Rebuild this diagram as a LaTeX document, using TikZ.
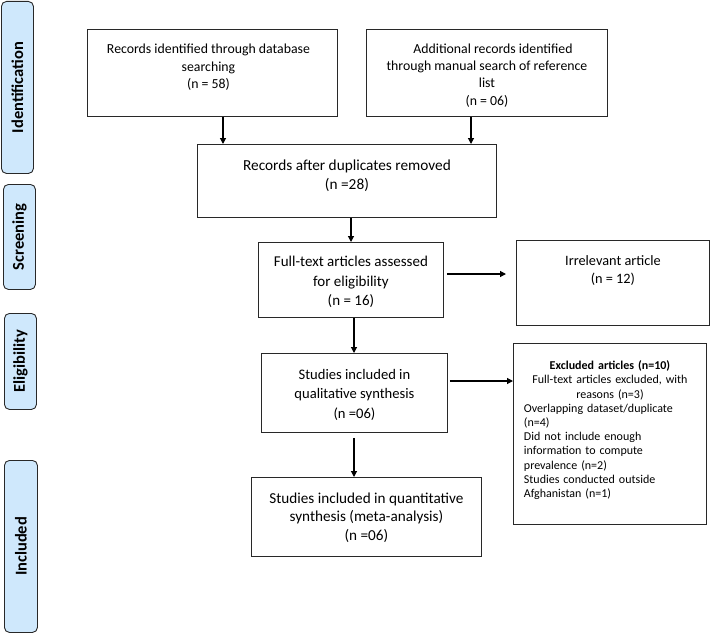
\documentclass[tikz,border=0pt]{standalone}
\usepackage{fontspec}
\setmainfont{Carlito}
\usetikzlibrary{arrows.meta,calc}
\definecolor{sidefill}{RGB}{207,232,252}
\definecolor{edge}{RGB}{40,40,40}
\tikzset{
  box/.style={draw=edge,line width=0.9pt,anchor=north west,inner sep=0pt},
  side/.style={draw=edge,fill=sidefill,line width=0.9pt,rounded corners=5pt,anchor=north west,inner sep=0pt},
  sidetext/.style={rotate=90,font=\fontsize{16.5}{18}\selectfont\bfseries},
  txt/.style={anchor=north,inner sep=0pt,align=center},
  arr/.style={line width=1.2pt,draw=black,-{Triangle[length=6pt,width=6pt]}}
}
\begin{document}
\begin{tikzpicture}[x=1pt,y=1pt]
\useasboundingbox (0,0) rectangle (710,-634);
% side labels
\node[side,minimum width=32pt,minimum height=172pt] (sid) at (1,-1) {};
\node[sidetext] at (sid.center) {Identification};
\node[side,minimum width=32pt,minimum height=105pt] (sscr) at (3,-184) {};
\node[sidetext] at (sscr.center) {Screening};
\node[side,minimum width=32pt,minimum height=96pt] (seli) at (4,-313) {};
\node[sidetext] at (seli.center) {Eligibility};
\node[side,minimum width=33pt,minimum height=172pt] (sinc) at (4,-460) {};
\node[sidetext] at (sinc.center) {Included};
% boxes
\node[box,minimum width=250pt,minimum height=87pt] (b1) at (87,-29) {};
\node[txt,font=\fontsize{13.8}{17.5}\selectfont] at ([xshift=-4pt,yshift=-15pt]b1.north) {Records identified through database\\searching\\(n = 58)};
\node[box,minimum width=241pt,minimum height=87pt] (b2) at (366,-29) {};
\node[txt,font=\fontsize{13.8}{17.3}\selectfont] at ([xshift=0pt,yshift=-14.5pt]b2.north) {\hspace*{12pt}Additional records identified\\through manual search of reference\\list\\(n = 06)};
\node[box,minimum width=299pt,minimum height=73pt] (b3) at (197,-144) {};
\node[txt,font=\fontsize{15.3}{19.5}\selectfont] at ([yshift=-15.5pt]b3.north) {Records after duplicates removed\\(n =28)};
\node[box,minimum width=185pt,minimum height=75pt] (b4) at (258,-242) {};
\node[txt,font=\fontsize{15}{19.5}\selectfont] at ([yshift=-14pt]b4.north) {Full-text articles assessed\\for eligibility\\(n = 16)};
\node[box,minimum width=193pt,minimum height=85pt] (b5) at (516,-240) {};
\node[txt,font=\fontsize{14.3}{18}\selectfont] at ([yshift=-15pt]b5.north) {Irrelevant article\\(n = 12)};
\node[box,minimum width=186pt,minimum height=79pt] (b6) at (261,-353) {};
\node[txt,font=\fontsize{14.6}{19.5}\selectfont] at ([yshift=-16pt]b6.north) {Studies included in\\qualitative synthesis\\(n =06)};
\node[box,minimum width=230pt,minimum height=79pt] (b7) at (251,-477) {};
\node[txt,font=\fontsize{15.2}{18.5}\selectfont] at ([yshift=-15.5pt]b7.north) {Studies included in quantitative\\synthesis (meta-analysis)\\(n =06)};
\node[box,minimum width=193pt,minimum height=181pt] (b8) at (513,-343) {};
\node[anchor=north,inner sep=0pt,text width=172pt,font=\fontsize{12}{14.2}\selectfont] at ([yshift=-17.5pt]b8.north) {%
{\centering\textbf{Excluded articles (n=10)}\\Full-text articles excluded, with\\reasons (n=3)\par}%
{\raggedright Overlapping dataset/duplicate\\(n=4)\\Did not include enough\\information to compute\\prevalence (n=2)\\Studies conducted outside\\Afghanistan (n=1)\par}};
% arrows
\draw[arr] (b1.south -| 223,0) -- (b3.north -| 223,0);
\draw[arr] (b2.south -| 471,0) -- (b3.north -| 471,0);
\draw[arr] (b3.south -| 351,0) -- (b4.north -| 351,0);
\draw[arr] ([xshift=3pt]b4.east |- 0,-274) -- ([xshift=-10pt]b5.west |- 0,-274);
\draw[arr] (b4.south -| 354,0) -- (b6.north -| 354,0);
\draw[arr] ([xshift=2pt]b6.east |- 0,-381) -- (b8.west |- 0,-381);
\draw[arr] ([yshift=-5pt]b6.south -| 354,0) -- (b7.north -| 354,0);
\end{tikzpicture}
\end{document}
